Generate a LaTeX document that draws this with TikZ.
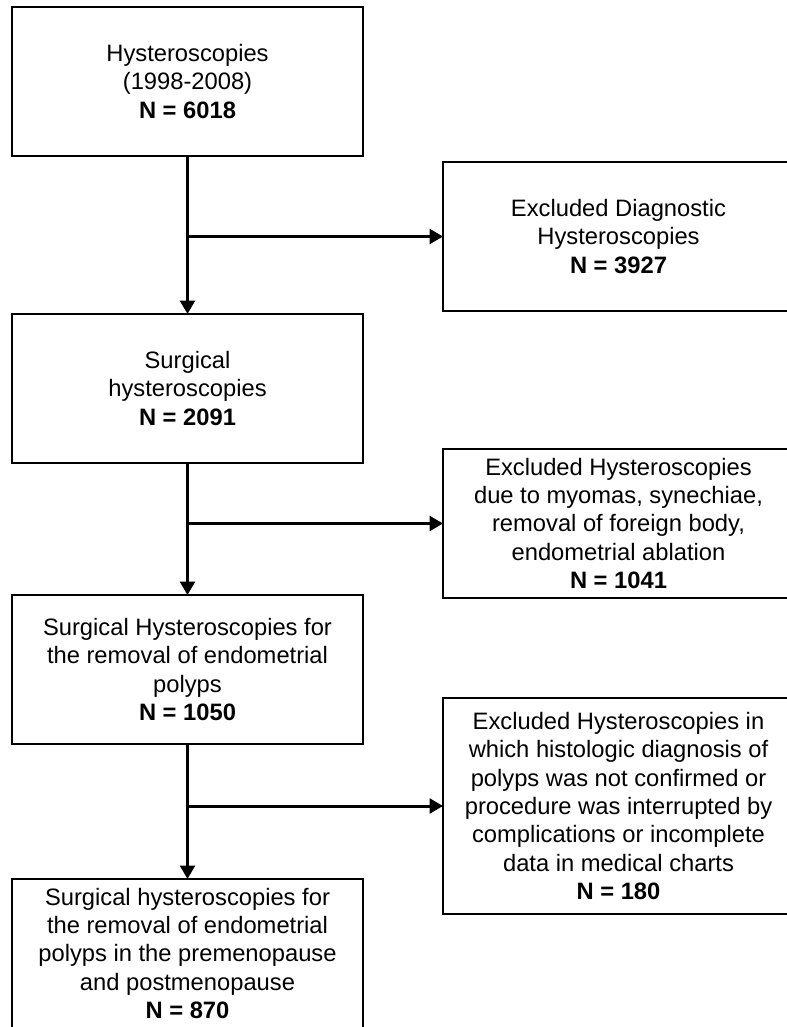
\documentclass[tikz,border=0pt]{standalone}
\usepackage{fontspec}
\setmainfont{Liberation Sans}
\usetikzlibrary{positioning,arrows.meta}

\begin{document}
\begin{tikzpicture}

      \tikzstyle{block}     = [rectangle, draw = black, line width = 1.75pt, minimum width = 263.25pt, minimum height = 111.75pt, inner sep = 0pt, outer sep = 0pt, align = center, font = \fontsize{17.8}{21.3}\selectfont]
      \tikzstyle{tallblock} = [block, minimum height = 162pt]

      \tikzstyle{connector} = [line width = 2.25pt, -{Triangle[length = 10pt, width = 11pt]}]

      \newcommand{\excludesep}[0]{60pt}
      \newcommand{\nodecount}[1]{\textbf{N = #1}}

      \useasboundingbox (0,0) rectangle (590.25pt,-770.25pt);
      \clip (0,0) rectangle (590.25pt,-770.25pt);

      \node [block, anchor = north west] (allhyst) at (9pt,-5.25pt) {Hysteroscopies\\(1998-2008)\\\nodecount{6018}};
      \node [block, below = 118.5pt of allhyst]  (surghyst)  {Surgical\\hysteroscopies\\\nodecount{2091}};
      \node [block, below = 99pt of surghyst]    (polyphyst) {Surgical Hysteroscopies for\\the removal of endometrial\\polyps\\\nodecount{1050}};
      \node [block, below = 101.25pt of polyphyst] (menohyst) {Surgical hysteroscopies for\\the removal of endometrial\\polyps in the premenopause\\and postmenopause\\\nodecount{870}};

      \node [block,     below right = 4.5pt and \excludesep of allhyst.south east]           (exclone)   {Excluded Diagnostic\\Hysteroscopies\\\nodecount{3927}};
      \node [block,     below = 103.5pt of exclone.south west, anchor = north west]          (excltwo)   {Excluded Hysteroscopies\\due to myomas, synechiae,\\removal of foreign body,\\endometrial ablation\\\nodecount{1041}};
      \node [tallblock, below = 75pt of excltwo.south west, anchor = north west]             (exclthree) {Excluded Hysteroscopies in\\which histologic diagnosis of\\polyps was not confirmed or\\procedure was interrupted by\\complications or incomplete\\data in medical charts\\\nodecount{180}};

      \draw [connector] (allhyst)   -- (surghyst);
      \draw [connector] (surghyst)  -- (polyphyst);
      \draw [connector] (polyphyst) -- (menohyst);

      \draw [connector] (allhyst.south |- exclone.west)     -- (exclone.west);
      \draw [connector] (surghyst.south |- excltwo.west)    -- (excltwo.west);
      \draw [connector] (polyphyst.south |- exclthree.west) -- (exclthree.west);

\end{tikzpicture}
\end{document}
